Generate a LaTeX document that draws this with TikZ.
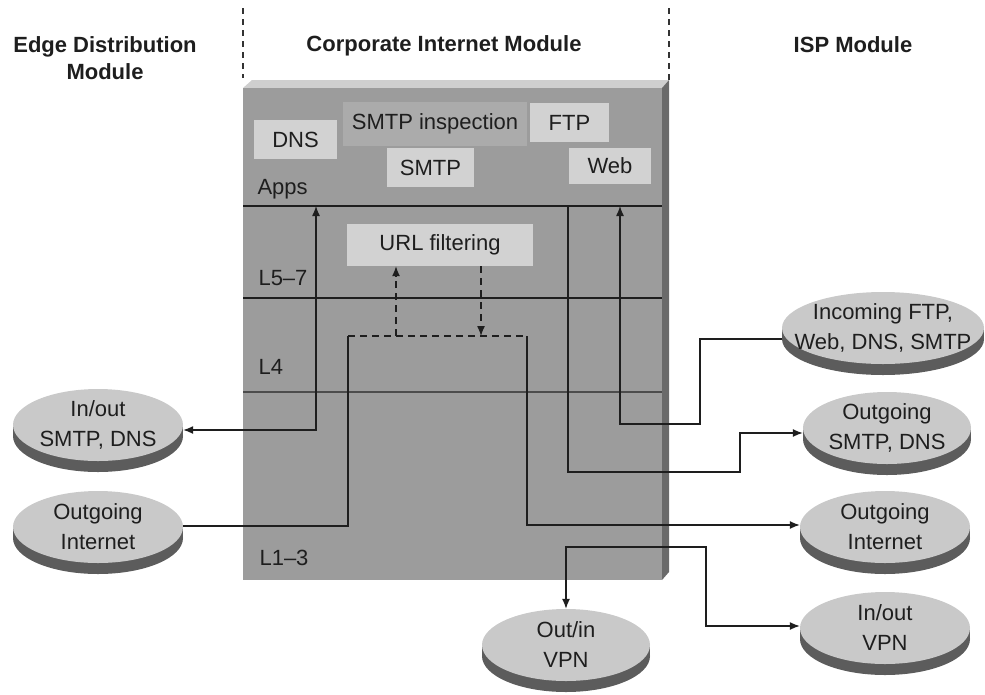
\documentclass[tikz,border=0pt]{standalone}
\usepackage{fontspec}
\setmainfont{Liberation Sans}
\usetikzlibrary{arrows.meta,shapes.geometric}
\definecolor{facec}{HTML}{9C9C9C}
\definecolor{topc}{HTML}{CFCFCF}
\definecolor{sidec}{HTML}{6A6A6A}
\definecolor{boxc}{HTML}{D2D2D2}
\definecolor{inspc}{HTML}{ABABAB}
\definecolor{disctopc}{HTML}{C9C9C9}
\definecolor{bandc}{HTML}{5C5C5C}
\definecolor{inkc}{HTML}{1E1E1E}
\newcommand\mydisc[5]{% name, x, y, rx, text
  \fill[bandc] (#2-#4,#3) rectangle (#2+#4,#3+11);
  \fill[bandc] (#2,#3+11) ellipse [x radius=#4, y radius=36];
  \node[disctop, minimum width=2*#4 pt, label={[disctext]center:#5}] (#1) at (#2,#3) {};
}
\begin{document}
\begin{tikzpicture}[x=1pt,y=-1pt,
  every node/.style={text=inkc, font=\fontsize{22}{29}\selectfont},
  title/.style={font=\fontsize{22}{27}\selectfont\bfseries, align=center},
  layer/.style={anchor=base west},
  appbox/.style={fill=boxc, inner sep=0pt},
  disctop/.style={ellipse, fill=disctopc, inner sep=0pt, minimum height=72pt},
  disctext/.style={align=center, inner sep=0pt, font=\fontsize{22}{30}\selectfont},
  conn/.style={draw=inkc, line width=1.3pt, >={Latex[length=10pt,width=8pt]}},
  sep/.style={draw=inkc, line width=2.6pt},
  modsep/.style={draw=black!80, line width=1.2pt, dash pattern=on 6pt off 5pt}
]
\useasboundingbox (0,0) rectangle (985,694);

% module separators and titles
\draw[modsep] (243,8) -- (243,78);
\draw[modsep] (669,8) -- (669,80);
\node[title] (tedge) at (105,58) {Edge Distribution\\Module};
\node[title] (tcorp) at (444,46) {Corporate Internet Module};
\node[title] (tisp) at (853,45) {ISP Module};

% the module block
\fill[topc] (243,88) -- (252,80) -- (669,80) -- (662,88) -- cycle;
\fill[sidec] (662,88) -- (669,80) -- (669,572) -- (662,580) -- cycle;
\fill[facec] (243,88) rectangle (662,580);
\draw[sep] (243,206) -- (662,206);
\draw[sep] (243,298) -- (662,298);
\draw[draw=black!70, line width=1.5pt] (243,392) -- (662,392);

\node[layer] (lapps) at (254,194) {Apps};
\node[layer] (l57) at (255,285) {L5–7};
\node[layer] (l4) at (255,374) {L4};
\node[layer] (l13) at (256,565) {L1–3};

% application boxes
\node[appbox, minimum width=83pt, minimum height=39pt] (dns) at (295.5,139.5) {DNS};
\node[appbox, fill=inspc, minimum width=184pt, minimum height=44pt] (insp) at (435,124) {SMTP inspection};
\node[appbox, minimum width=79pt, minimum height=39pt] (ftp) at (569.5,122.5) {FTP};
\node[appbox, minimum width=87pt, minimum height=39pt] (smtp) at (430.5,167.5) {SMTP};
\node[appbox, minimum width=82pt, minimum height=36pt] (web) at (610,166) {Web};
\node[appbox, minimum width=186pt, minimum height=42pt] (url) at (440,245) {URL filtering};

% discs
\mydisc{ioSMTP}{98}{425}{85}{In/out\\SMTP, DNS}
\mydisc{outInetL}{98}{527}{85}{Outgoing\\Internet}
\mydisc{incoming}{883}{328}{101}{Incoming FTP,\\Web, DNS, SMTP}
\mydisc{outSMTP}{887}{428}{84}{Outgoing\\SMTP, DNS}
\mydisc{outInetR}{885}{527}{85}{Outgoing\\Internet}
\mydisc{ioVPN}{885}{628}{85}{In/out\\VPN}
\mydisc{oiVPN}{566}{645}{84}{Out/in\\VPN}

% junction coordinates
\coordinate (jA) at (316,206);
\coordinate (jB) at (568,206);
\coordinate (jC) at (620,206);
\coordinate (dL) at (348,336);
\coordinate (dR) at (527,336);
\coordinate (uUp) at (396,336);
\coordinate (uDn) at (481,336);
\coordinate (bend1) at (740,472);
\coordinate (bend2) at (700,424);
\coordinate (bend3) at (706,547);

% connectors
\draw[conn,<->] (ioSMTP.east |- 0,430) -| (jA);
\draw[conn] (outInetL.east |- 0,526) -| (dL);
\draw[conn, dash pattern=on 7pt off 5pt] (dL) -- (dR);
\draw[conn,->] (dR) |- (outInetR.west |- 0,525);
\draw[conn,->, dash pattern=on 7pt off 5pt] (uUp) -- (uUp |- url.south);
\draw[conn,->, dash pattern=on 7pt off 5pt] (url.south -| uDn) -- (uDn);
\draw[conn,->] (jB) |- (bend1) |- (outSMTP.west |- 0,433);
\draw[conn,->] (incoming.west |- 0,339) -| (bend2) -| (jC);
\draw[conn,<->] (oiVPN.north) |- (bend3) |- (ioVPN.west |- 0,626);
\end{tikzpicture}
\end{document}
